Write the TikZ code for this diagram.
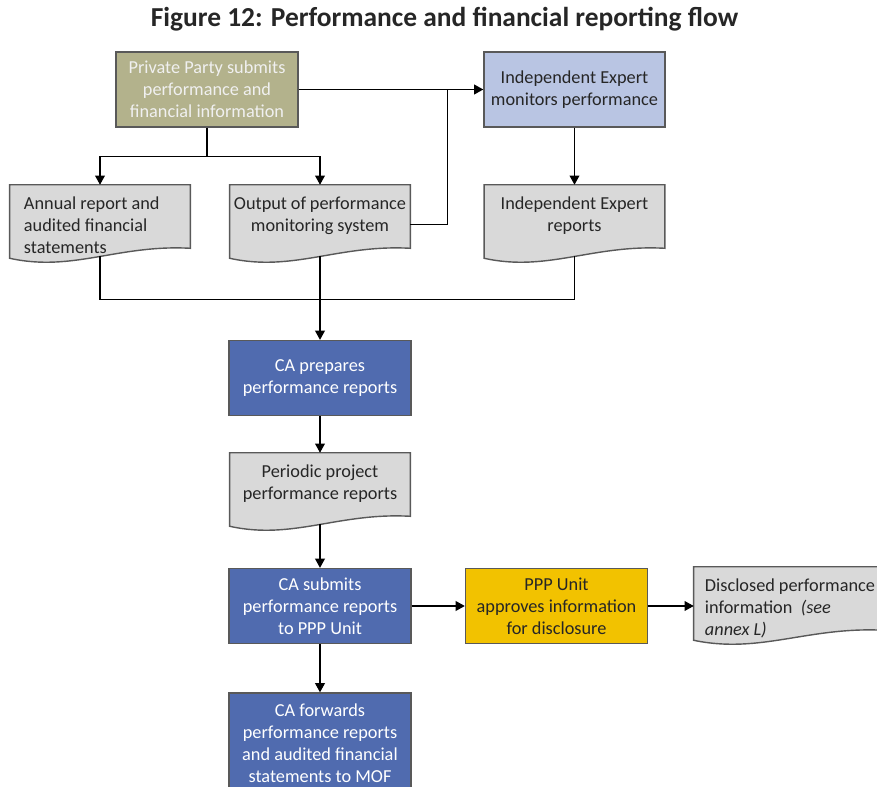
\documentclass[tikz,border=0pt]{standalone}
\usepackage{fontspec}
\setmainfont{Carlito}
\usepackage{xcolor}
\usepackage{tikz}
\usetikzlibrary{arrows.meta}
\usetikzlibrary{calc, backgrounds}
\definecolor{olivebox}{RGB}{179,178,140}
\definecolor{iceblue}{RGB}{185,197,227}
\definecolor{cablue}{RGB}{80,107,175}
\definecolor{pppgold}{RGB}{242,194,0}
\definecolor{docgray}{RGB}{217,217,217}
\definecolor{edgegray}{RGB}{89,89,89}
\newcommand{\doctext}[2]{\parbox[c][1.575cm][t]{4.3cm}{#1\rule{0pt}{17.5pt}#2}}

\begin{document}
\begin{tikzpicture}[x=0.025cm, y=-0.025cm,
        box/.style={draw=edgegray, line width=1pt, minimum width=4.55cm, minimum height=1.875cm, align=center, inner sep=2pt, font=\fontsize{13}{15.6}\selectfont},
        doc/.style={minimum width=4.5cm, minimum height=1.575cm, inner sep=0pt, font=\fontsize{13}{15.6}\selectfont, text=black!85},
        docshape/.style={fill=docgray, draw=edgegray, line width=1pt},
        arr/.style={-{Triangle[length=6.5pt,width=7pt]}, line width=0.8pt},
        link/.style={line width=0.8pt}]
        \useasboundingbox (0,0) rectangle (877,787);
        \clip (0,0) rectangle (877,787);
        \node[font=\fontsize{19.5}{23}\selectfont\bfseries, text=black!85] (title) at (444.5,19) {Figure 12: Performance and financial reporting flow};
        \node[box, fill=olivebox, text=white!94!black] (pp) at (207,89.5) {Private Party submits\\performance and\\financial information};
        \node[box, fill=iceblue, text=black!85, minimum width=4.525cm] (ie) at (574.5,89.5) {Independent Expert\\monitors performance};
        \node[doc] (annual) at (100,216.5) {\doctext{\raggedright\leftskip=0.25cm}{Annual report and\\audited financial\\statements}};
        \node[doc] (output) at (320,216.5) {\doctext{\centering}{Output of performance\\monitoring system}};
        \node[doc] (iereports) at (574.5,216.5) {\doctext{\centering}{Independent Expert\\reports}};
        \node[box, fill=cablue, text=white] (prepare) at (320,378) {CA prepares\\performance reports};
        \node[doc] (periodic) at (320,484.5) {\doctext{\centering}{Periodic project\\performance reports}};
        \node[box, fill=cablue, text=white] (submit) at (320,606) {CA submits\\performance reports\\to PPP Unit};
        \node[box, fill=pppgold, text=black!85] (ppp) at (556.5,606) {PPP Unit\\approves information\\for disclosure};
        \node[doc, minimum width=4.75cm] (disclosed) at (789,598.5) {\doctext{\raggedright\leftskip=0.05cm}{Disclosed performance\\information \ \textit{(see}\\\textit{annex L)}}};
        \node[box, fill=cablue, text=white, minimum height=2.5cm] (forward) at (320,743) {CA forwards\\performance reports\\and audited financial\\statements to MOF};
        \begin{scope}[on background layer]
            \foreach \d in {annual, output, iereports, periodic, disclosed}
                \draw[docshape] (\d.north west) -- (\d.north east) -- (\d.south east)
                    .. controls ($(\d.south west)!0.6!(\d.south east)+(0,-4)$) and ($(\d.south west)!0.35!(\d.south east)+(0,24)$) .. ($(\d.south west)+(0,10)$) -- cycle;
        \end{scope}
        \coordinate (split) at ($(pp.south)+(0,29)$);
        \draw[link] (pp.south) -- (split);
        \draw[arr] (split) -| (annual.north);
        \draw[arr] (split) -| (output.north);
        \draw[arr] (pp) -- (ie);
        \coordinate (merge) at ($(pp.east)!0.806!(ie.west)$);
        \draw[link] ($(output.east)+(0,8)$) -| (merge);
        \draw[arr] (ie) -- (iereports);
        \coordinate (collect) at ($(output.south)+(0,51)$);
        \draw[link] ($(annual.south)+(0,8)$) |- (collect) -| ($(iereports.south)+(0,8)$);
        \draw[arr] ($(output.south)+(0,8)$) -- (prepare);
        \draw[arr] (prepare) -- (periodic);
        \draw[arr] ($(periodic.south)+(0,8)$) -- (submit);
        \draw[arr] (submit) -- (ppp);
        \draw[arr] (ppp.east) -- (ppp.east -| disclosed.west);
        \draw[arr] (submit) -- (forward);
    \end{tikzpicture}
\end{document}
